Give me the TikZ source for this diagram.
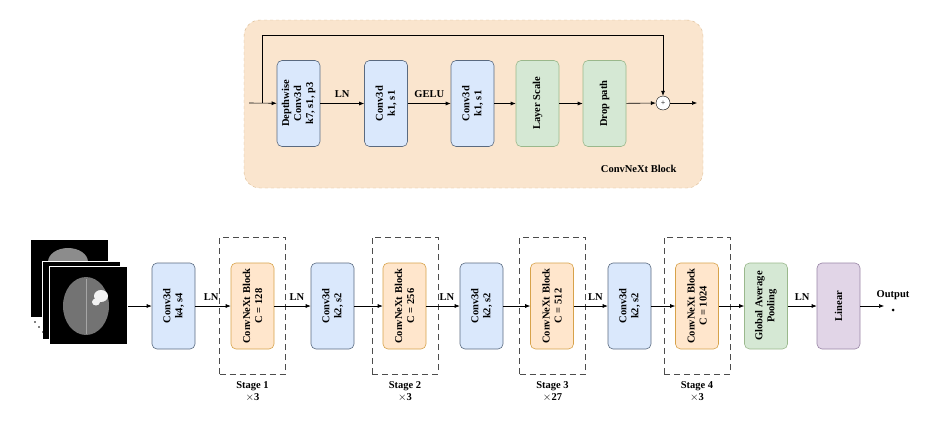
\documentclass[tikz,border=0pt]{standalone}
\usepackage{fontspec}
\setmainfont{Liberation Serif}
\usetikzlibrary{arrows.meta,positioning}
\definecolor{bfill}{HTML}{DAE8FC}\definecolor{bdraw}{HTML}{5A6A80}
\definecolor{ofill}{HTML}{FFE6CC}\definecolor{odraw}{HTML}{D7A24A}
\definecolor{gfill}{HTML}{D5E8D4}\definecolor{gdraw}{HTML}{9AB88C}
\definecolor{pfill}{HTML}{E1D5E7}\definecolor{pdraw}{HTML}{9A86A6}
\definecolor{panel}{HTML}{FAE5CE}\definecolor{pborder}{HTML}{D9B98F}
\begin{document}
\begin{tikzpicture}[x=1pt,y=-1pt,font=\bfseries\fontsize{10.5}{12}\selectfont,
 blk/.style={draw,rounded corners=5pt,line width=0.6pt,minimum width=43pt,minimum height=86pt,inner sep=0pt},
 rt/.style={rotate=90,align=center},
 blue/.style={blk,fill=bfill,draw=bdraw},
 orange/.style={blk,fill=ofill,draw=odraw},
 green/.style={blk,fill=gfill,draw=gdraw},
 purple/.style={blk,fill=pfill,draw=pdraw},
 stage/.style={draw=black!70,dashed,dash pattern=on 6pt off 4pt,line width=0.6pt,minimum width=66pt,minimum height=137pt,inner sep=0pt},
 arr/.style={-{Latex[length=5pt,width=4pt]},line width=0.6pt},
 lbl/.style={inner sep=1pt}]
\useasboundingbox (0,0) rectangle (944,426);
% top panel
\node[draw=pborder,dashed,fill=panel,rounded corners=16pt,minimum width=459pt,minimum height=168pt] (panel) at (473.5,104) {};
\coordinate (in) at (249,103);
\coordinate (sk) at (262,103);
\node[blue] (dw) at (298.5,103.5) {}; \node[rt] at (dw) {Depthwise\\Conv3d\\k7, s1, p3};
\node[blue] (c1) at (386,103.5) {}; \node[rt] at (c1) {Conv3d\\k1, s1};
\node[blue] (c2) at (472.5,103.5) {}; \node[rt] at (c2) {Conv3d\\k1, s1};
\node[green] (ls) at (537.5,103.5) {}; \node[rt] at (ls) {Layer Scale};
\node[green] (dp) at (604.5,103.5) {}; \node[rt] at (dp) {Drop path};
\node[draw,fill=white,circle,minimum size=14pt,inner sep=0pt,font=\fontsize{8}{8}\selectfont] (plus) at (663,103) {+};
\coordinate (out) at (697,103);
\draw[arr] (in) -- (dw);
\draw[arr] (dw) -- node[lbl,above=5pt] {LN} (c1);
\draw[arr] (c1) -- node[lbl,above=5pt] {GELU} (c2);
\draw[arr] (c2) -- (ls);
\draw[arr] (ls) -- (dp);
\draw[arr] (dp) -- (plus);
\draw[arr] (plus) -- (out);
\draw[arr] (sk) -- (262,35) -- (663,35) -- (plus);
\node[anchor=east] at (680,169) {ConvNeXt Block};
% images
\foreach \x/\y in {30/239,42/261,49/266}{
 \draw[white,fill=black,line width=1pt] (\x,\y) rectangle ++(78,78);}
\begin{scope}
\clip (30.5,239.5) rectangle (107,260.5);
\fill[black!45] (68,262) ellipse (20pt and 14pt);
\end{scope}
\node[inner sep=0pt,minimum width=78pt,minimum height=78pt] (img) at (88,305) {};
\fill[black!55] (86,306) ellipse (23pt and 29pt);
\draw[black!35,line width=0.5pt] (86,279) -- (86,334);
\fill[white!90!gray] (101,296) ellipse (7pt and 6pt);
\fill[white!90!gray] (96,302) ellipse (4pt and 3.5pt);
\foreach \x/\y in {35/322,39/327,43/332}{\fill[black] (\x,\y) circle (0.8pt);}
% bottom
\node[blue] (s0) at (173.5,306) {}; \node[rt] at (s0) {Conv3d\\k4, s4};
\node[stage] (st1) at (252.5,305.5) {};
\node[orange] (b1) at (252.5,306) {}; \node[rt] at (b1) {ConvNeXt Block\\C = 128};
\node[blue] (d1) at (332.5,306) {}; \node[rt] at (d1) {Conv3d\\k2, s2};
\node[stage] (st2) at (405,305.5) {};
\node[orange] (b2) at (404.5,306) {}; \node[rt] at (b2) {ConvNeXt Block\\C = 256};
\node[blue] (d2) at (481.5,306) {}; \node[rt] at (d2) {Conv3d\\k2, s2};
\node[stage] (st3) at (552.5,305.5) {};
\node[orange] (b3) at (552,306) {}; \node[rt] at (b3) {ConvNeXt Block\\C = 512};
\node[blue] (d3) at (629.5,306) {}; \node[rt] at (d3) {Conv3d\\k2, s2};
\node[stage] (st4) at (697,305.5) {};
\node[orange] (b4) at (697,306) {}; \node[rt] at (b4) {ConvNeXt Block\\C = 1024};
\node[green] (gap) at (766,306) {}; \node[rt] at (gap) {Global Average\\Pooling};
\node[purple] (lin) at (838.5,306) {}; \node[rt] at (lin) {Linear};
\coordinate (o) at (884,306);
\coordinate (src) at (128,306);
\fill (893,310) circle (1.5pt);
\node at (893,295) {Output};
\draw[arr] (src) -- (s0);
\draw[arr] (s0) -- node[lbl,above=4pt,pos=0.45] {LN} (b1);
\draw[arr] (b1) -- node[lbl,above=4pt,pos=0.62] {LN} (d1);
\draw[arr] (d1) -- (b2);
\draw[arr] (b2) -- node[lbl,above=4pt,pos=0.62] {LN} (d2);
\draw[arr] (d2) -- (b3);
\draw[arr] (b3) -- node[lbl,above=4pt,pos=0.64] {LN} (d3);
\draw[arr] (d3) -- (b4);
\draw[arr] (b4) -- (gap);
\draw[arr] (gap) -- node[lbl,above=4pt] {LN} (lin);
\draw[arr] (lin) -- (o);
\foreach \s/\n/\r in {st1/1/3,st2/2/3,st3/3/27,st4/4/3}{
 \node[align=center,below=7pt of \s.south,inner sep=0pt] {Stage \n\\$\times$\r};}
\end{tikzpicture}
\end{document}
